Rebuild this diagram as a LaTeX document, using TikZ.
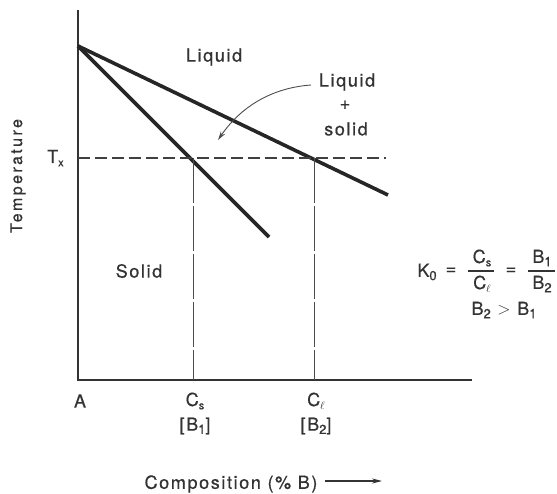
\documentclass[tikz,border=0pt]{standalone}
\usepackage{fontspec}
\setmainfont[LetterSpace=9,FakeBold=0.6]{TeX Gyre Heros}
\newfontfamily\tempfont[LetterSpace=15,FakeBold=0.6]{TeX Gyre Heros}
\usetikzlibrary{arrows.meta}
\newcommand{\mysub}[1]{\raisebox{-0.35ex}{\fontsize{13}{13}\selectfont #1}}
\newcommand{\mysubs}[1]{\raisebox{-0.35ex}{\fontsize{11}{11}\selectfont #1}}
\tikzset{
  lbl/.style={font=\fontsize{18}{20}\selectfont, inner sep=0pt, text=black!80},
  templbl/.style={font=\tempfont\fontsize{16}{18}\selectfont, inner sep=0pt, text=black!80},
  axisline/.style={line width=1.8pt, draw=black!80},
  phaseline/.style={line width=3.6pt, draw=black!85},
  txline/.style={line width=1.3pt, draw=black!75, dash pattern=on 12pt off 5pt},
  compline/.style={line width=0.9pt, draw=black!70, dash pattern=on 45pt off 3pt},
  barline/.style={line width=1.3pt, draw=black!80},
  pointer/.style={line width=0.9pt, draw=black!70, -{Stealth[length=9pt,width=5pt]}},
  dirarrow/.style={line width=1.2pt, draw=black!80, -{Stealth[length=10pt,width=5pt]}}
}
\begin{document}
\begin{tikzpicture}[x=1pt,y=-1pt]
\useasboundingbox (0,0) rectangle (557,494);
% axes
\coordinate (ytop) at (78,10);
\coordinate (orig) at (78,380);
\coordinate (xend) at (472,380);
\draw[axisline] (ytop) -- (orig) -- (xend);
% phase lines
\coordinate (melt) at (78,46);
\coordinate (liqend) at (388,195);
\coordinate (solend) at (269,237);
\draw[phaseline] (melt) -- (liqend);
\draw[phaseline] (melt) -- (solend);
% Tx line
\coordinate (tx0) at (78,158);
\coordinate (tx1) at (386,158);
\draw[txline] (tx0) -- (tx1);
% composition lines
\coordinate (cs0) at (193,158);
\coordinate (cs1) at (193,380);
\coordinate (cl0) at (314,158);
\coordinate (cl1) at (314,380);
\draw[compline] (cs0) -- (cs1);
\draw[compline] (cl0) -- (cl1);
% labels
\node[lbl] (liq) at (214,57) {Liquid};
\node[lbl] (liq2) at (347,82) {Liquid};
\node[lbl] (plus) at (345,105) {+};
\node[lbl] (sol2) at (346,129) {solid};
\node[lbl] (solid) at (139,271) {Solid};
\node[lbl, anchor=base west] (tx) at (47,163) {T\mysubs{x}};
\node[templbl, rotate=90] (temp) at (18,176) {Temperature};
\node[lbl] (A) at (80,401) {A};
\node[lbl] (cs) at (195,401) {C\mysubs{s}};
\node[lbl] (b1) at (195,426) {[B\mysub{1}]};
\node[lbl] (cl) at (316,401) {C\mysubs{$\ell$}};
\node[lbl] (b2) at (316,426) {[B\mysub{2}]};
\node[lbl] (comp) at (231,484) {Composition (\% B)};
\coordinate (ca0) at (325,481);
\coordinate (ca1) at (382,481);
\draw[dirarrow] (ca0) -- (ca1);
% pointer arrow
\coordinate (p0) at (311,85);
\coordinate (p1) at (218,140);
\draw[pointer] (p0) .. controls (270,88) and (240,108) .. (p1);
% formula
\node[lbl] (k0) at (427,272) {K\mysub{0}};
\node[lbl] (eq1) at (451,271) {=};
\node[lbl] (num1) at (482,258) {C\mysubs{s}};
\node[lbl] (den1) at (482,284) {C\mysubs{$\ell$}};
\coordinate (bar1a) at (468,271);
\coordinate (bar1b) at (494,271);
\draw[barline] (bar1a) -- (bar1b);
\node[lbl] (eq2) at (511,271) {=};
\node[lbl] (num2) at (542,258) {B\mysub{1}};
\node[lbl] (den2) at (542,284) {B\mysub{2}};
\coordinate (bar2a) at (528,271);
\coordinate (bar2b) at (555,271);
\draw[barline] (bar2a) -- (bar2b);
\node[lbl] (ineq) at (504,310) {B\mysub{2} $>$ B\mysub{1}};
\end{tikzpicture}
\end{document}
